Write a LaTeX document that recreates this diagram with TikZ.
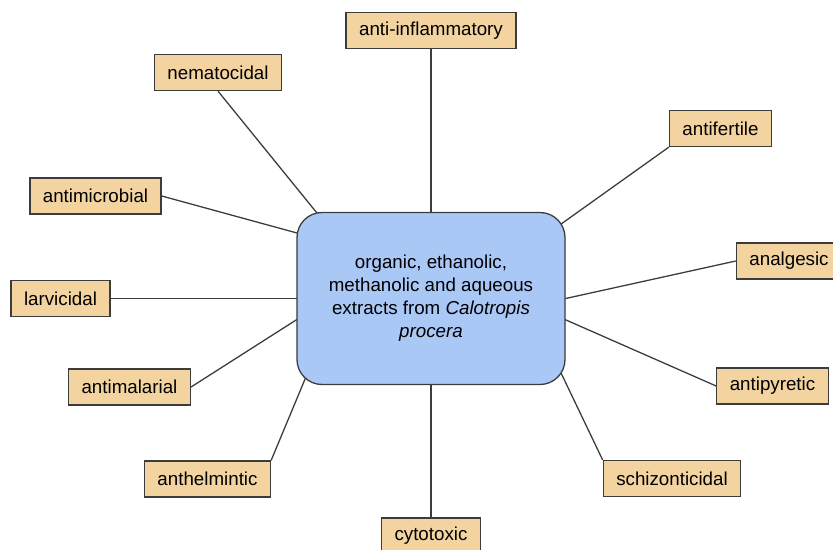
\documentclass[tikz,border=0pt]{standalone}
\usepackage{fontspec}
\setmainfont{Liberation Sans}
\usepackage{xcolor}
\usetikzlibrary{backgrounds}
\definecolor{tanfill}{RGB}{243,211,160}
\definecolor{hubfill}{RGB}{170,200,246}
\definecolor{edgegray}{RGB}{60,60,60}

\begin{document}
\begin{tikzpicture}[x=0.03cm, y=-0.03cm,
        leaf/.style={draw=edgegray, line width=1.1pt, fill=tanfill, minimum height=1.08cm, inner xsep=0.39cm, inner ysep=0pt, font=\fontsize{16}{19.5}\selectfont},
        hubbox/.style={draw=edgegray, line width=1.1pt, fill=hubfill, rounded corners=0.75cm, minimum width=8.04cm, minimum height=5.16cm, align=center, font=\fontsize{16}{19.6}\selectfont},
        link/.style={draw=edgegray, line width=1.1pt, shorten >=-0.6cm}]
        \useasboundingbox (0,0) rectangle (833,549);

        \node[hubbox] (hub) at (431,298.5) {organic, ethanolic,\\ methanolic and aqueous\\ extracts from \textit{Calotropis}\\ \textit{procera}};

        \foreach \name/\pos/\txt in {ai/{431,30.5}/anti-inflammatory, nem/{218,72.5}/nematocidal,
                af/{720.5,128.5}/antifertile, am/{95.5,196}/antimicrobial,
                lv/{60.5,298.5}/larvicidal, an/{789,261}/analgesic,
                amal/{129.5,387}/antimalarial, ap/{772.5,386}/antipyretic,
                anth/{207.5,479}/anthelmintic, sch/{672,478.5}/schizonticidal,
                cy/{431,536}/cytotoxic}{
            \node[leaf] (\name) at (\pos) {\txt};
        }

        % links go under the boxes, so they stop on the rounded corners
        \begin{scope}[on background layer]
            \foreach \a/\b in {ai.south/hub.north, nem.south/hub.143, af.south west/hub.30,
                    am.east/hub.154, lv.east/hub.west, an.west/hub.east,
                    amal.east/hub.189, ap.west/hub.351, anth.north east/hub.214,
                    sch.north west/hub.328, cy.north/hub.south}{
                \draw[link] (\a) -- (\b);
            }
        \end{scope}
        % \draw[link] (nem.south) -- (hub);
    \end{tikzpicture}
\end{document}
